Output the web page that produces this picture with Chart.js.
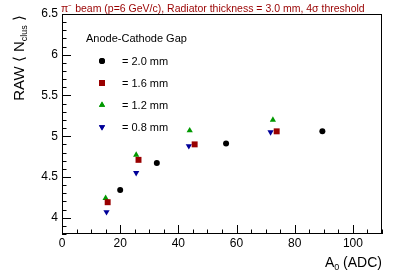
<!DOCTYPE html>
<html><head><meta charset="utf-8">
<script src="https://cdn.jsdelivr.net/npm/chart.js@4/dist/chart.umd.min.js"></script>
<style>html,body{margin:0;padding:0;background:#fff}#wrap{width:407px;height:276px}</style>
</head><body><div id="wrap"><canvas id="c" width="407" height="276"></canvas></div>
<script>
const gapLabels = ["= 2.0 mm", "= 1.6 mm", "= 1.2 mm", "= 0.8 mm"];
const x20 = [20.0, 32.6, 56.4, 89.5];
const y20 = [4.34, 4.67, 4.91, 5.06];
const x16 = [15.7, 26.3, 45.6, 73.8];
const y16 = [4.19, 4.71, 4.90, 5.06];
const x12 = [15.0, 25.5, 43.9, 72.5];
const y12 = [4.24, 4.77, 5.07, 5.20];
const x08 = [15.3, 25.5, 43.6, 71.7];
const y08 = [4.07, 4.55, 4.88, 5.05];
const xTicks = [0, 20, 40, 60, 80, 100];
const yTicks = [4, 4.5, 5, 5.5, 6, 6.5];
const titleText = "\u03C0\u207B beam (p=6 GeV/c), Radiator thickness = 3.0 mm, 4\u03C3 threshold";

const FONT = "'Liberation Sans', Arial, sans-serif";
function pts(xs, ys){ return xs.map((x,i)=>({x:x, y:ys[i]})); }

const styles = [
  {c:'#000000', s:'circle', r:3, rot:0},
  {c:'#990000', s:'rect', r:4.2, rot:0},
  {c:'#009900', s:'triangle', r:3.6, rot:0},
  {c:'#000099', s:'triangle', r:3.6, rot:180}
];
const series = [pts(x20,y20), pts(x16,y16), pts(x12,y12), pts(x08,y08)];

const framePlugin = {
  id: 'frame',
  afterDraw(chart){
    const ctx = chart.ctx, a = chart.chartArea;
    const xs = chart.scales.x, ys = chart.scales.y;
    ctx.save();
    ctx.strokeStyle = '#000'; ctx.lineWidth = 1;
    ctx.strokeRect(a.left+0.5, a.top+0.5, a.right-a.left-1, a.bottom-a.top-1);
    ctx.beginPath();
    for (let v = 0; v <= 110 + 1e-9; v += 5) {
      const px = Math.round(xs.getPixelForValue(v)) + 0.5;
      const L = (v % 20 === 0) ? 9 : 4.5;
      ctx.moveTo(px, a.bottom); ctx.lineTo(px, a.bottom - L);
    }
    for (let k = 38; k <= 65; k++) {
      const v = k / 10;
      const py = Math.round(ys.getPixelForValue(v)) + 0.5;
      const L = (k % 5 === 0) ? 9 : 4.5;
      ctx.moveTo(a.left, py); ctx.lineTo(a.left + L, py);
    }
    ctx.stroke();

    ctx.fillStyle = '#990000';
    ctx.font = '10.5px ' + FONT;
    ctx.textBaseline = 'alphabetic'; ctx.textAlign = 'left';
    ctx.fillText(titleText, 61, 12);

    ctx.fillStyle = '#000';
    ctx.font = '11px ' + FONT;
    ctx.fillText('Anode-Cathode Gap', 86, 42);
    const rowsY = [61, 83, 105, 127];
    gapLabels.forEach((t, i) => {
      const st = styles[i];
      ctx.fillStyle = st.c; ctx.strokeStyle = st.c;
      Chart.helpers.drawPoint(ctx, {pointStyle: st.s, radius: st.r, rotation: st.rot, borderWidth: 0}, 102, rowsY[i]);
      ctx.fill();
      ctx.fillStyle = '#000';
      ctx.textBaseline = 'middle';
      ctx.fillText(t, 122, rowsY[i] + 1);
    });

    ctx.textBaseline = 'alphabetic'; ctx.textAlign = 'right';
    ctx.font = '14px ' + FONT;
    const w1 = ctx.measureText(' (ADC)').width;
    ctx.fillText(' (ADC)', 382, 267);
    ctx.font = '9px ' + FONT;
    const w0 = ctx.measureText('0').width;
    ctx.fillText('0', 382 - w1, 270);
    ctx.font = '14px ' + FONT;
    ctx.fillText('A', 382 - w1 - w0, 267);

    ctx.save();
    ctx.translate(24, 15);
    ctx.rotate(-Math.PI/2);
    ctx.textAlign = 'left'; ctx.textBaseline = 'alphabetic';
    const parts = [
      {t:'RAW \u27E8 N', f:'15px', dy:0},
      {t:'clus', f:'9px', dy:3},
      {t:' \u27E9', f:'15px', dy:0}
    ];
    let total = 0;
    parts.forEach(p => { ctx.font = p.f + ' ' + FONT; p.w = ctx.measureText(p.t).width; total += p.w; });
    let xx = -total;
    parts.forEach(p => { ctx.font = p.f + ' ' + FONT; ctx.fillText(p.t, xx, p.dy); xx += p.w; });
    ctx.restore();

    ctx.restore();
  }
};

new Chart(document.getElementById('c'), {
  type: 'scatter',
  data: {
    datasets: series.map((d, i) => ({
      label: gapLabels[i],
      data: d,
      pointStyle: styles[i].s,
      pointRadius: styles[i].r,
      pointHoverRadius: styles[i].r,
      pointRotation: styles[i].rot,
      backgroundColor: styles[i].c,
      borderColor: styles[i].c,
      borderWidth: 0
    }))
  },
  options: {
    responsive: false,
    animation: false,
    events: [],
    layout: { padding: { top: 14, right: 25, left: 0, bottom: 0 } },
    plugins: { legend: { display: false }, tooltip: { enabled: false }, title: { display: false } },
    scales: {
      x: {
        type: 'linear', min: 0, max: 110,
        afterBuildTicks: s => { s.ticks = xTicks.map(v => ({value: v})); },
        afterFit: s => { s.height = 42; },
        grid: { display: false, drawTicks: false },
        border: { display: false },
        ticks: { color: '#000', font: { family: FONT, size: 12 }, padding: 2, maxRotation: 0, autoSkip: false,
                 callback: v => String(v) }
      },
      y: {
        type: 'linear', min: 3.8, max: 6.5,
        afterBuildTicks: s => { s.ticks = yTicks.map(v => ({value: v})); },
        afterFit: s => { s.width = 62; },
        grid: { display: false, drawTicks: false },
        border: { display: false },
        ticks: { color: '#000', font: { family: FONT, size: 12 }, padding: 4, autoSkip: false,
                 callback: v => String(v) }
      }
    }
  },
  plugins: [framePlugin]
});
</script></body></html>
